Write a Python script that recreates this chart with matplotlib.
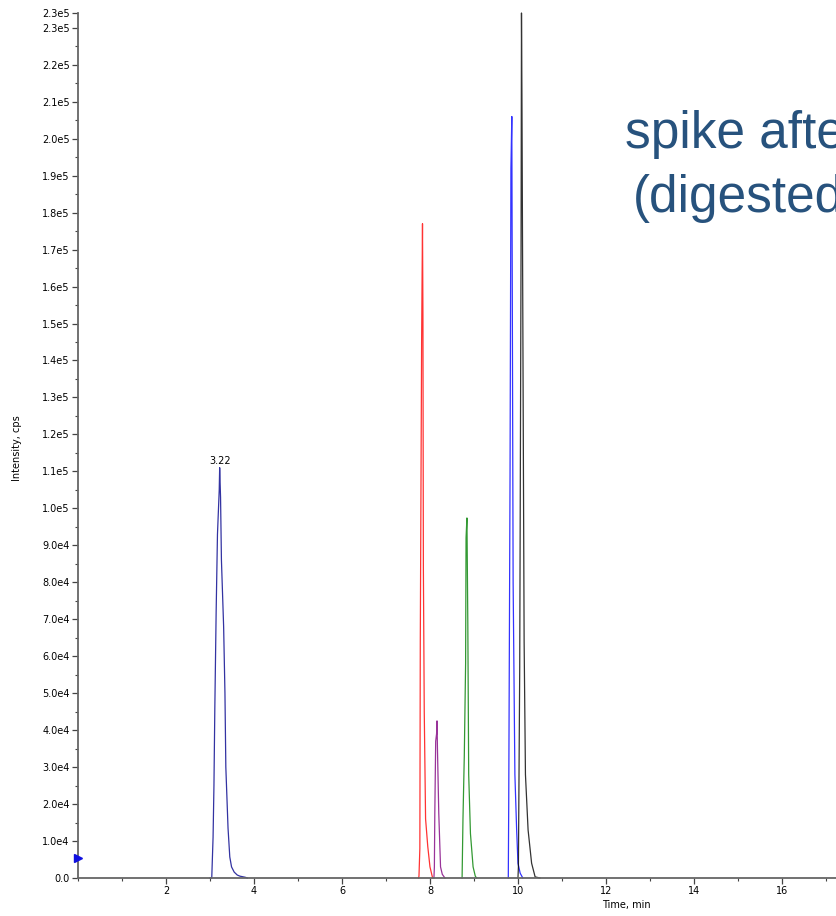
import matplotlib
matplotlib.use("Agg")
import matplotlib.pyplot as plt
from matplotlib.ticker import FuncFormatter, MultipleLocator, FixedLocator

# ---- data (time in min, intensity in cps) ----
navy_t = [3.00, 3.04, 3.07, 3.09, 3.11, 3.14, 3.17, 3.21, 3.22, 3.24, 3.26, 3.31,
          3.34, 3.36, 3.41, 3.45, 3.49, 3.55, 3.62, 3.68, 3.80, 3.85]
navy_y = [0, 0, 1.1e4, 2.5e4, 4.6e4, 7.2e4, 9.3e4, 1.05e5, 1.11e5, 1.03e5, 8.6e4, 6.8e4,
          5.0e4, 3.0e4, 1.35e4, 5.7e3, 3.0e3, 1.6e3, 8e2, 5e2, 2e2, 0]

red_t = [7.74, 7.75, 7.77, 7.78, 7.81, 7.83, 7.84, 7.85, 7.87, 7.90, 7.95, 8.00, 8.06]
red_y = [0, 5e2, 8e3, 6.4e4, 1.45e5, 1.77e5, 1.52e5, 8.4e4, 4.5e4, 1.6e4, 8.5e3, 3e3, 0]

purple_t = [8.09, 8.10, 8.11, 8.13, 8.15, 8.16, 8.17, 8.20, 8.24, 8.28, 8.34]
purple_y = [0, 3e3, 1.75e4, 3.7e4, 3.9e4, 4.25e4, 3.5e4, 1.75e4, 3e3, 1e3, 0]

green_t = [8.73, 8.75, 8.78, 8.81, 8.82, 8.84, 8.86, 8.88, 8.92, 8.98, 9.03, 9.06]
green_y = [0, 1.6e4, 3.3e4, 5.8e4, 9.2e4, 9.74e4, 6.9e4, 2.8e4, 1.2e4, 3e3, 5e2, 0]

blue_t = [9.78, 9.79, 9.82, 9.84, 9.86, 9.87, 9.89, 9.93, 9.97, 10.00, 10.05, 10.11]
blue_y = [0, 2.0e4, 1.09e5, 1.92e5, 2.06e5, 1.62e5, 8.0e4, 2.8e4, 1.3e4, 4e3, 1.3e3, 0]

black_t = [10.00, 10.01, 10.04, 10.07, 10.08, 10.09, 10.14, 10.17, 10.23, 10.31, 10.39, 10.50]
black_y = [0, 3e3, 5.7e4, 1.70e5, 2.34e5, 2.12e5, 6.4e4, 2.8e4, 1.3e4, 4e3, 3e2, 0]

series = [
    (navy_t, navy_y, "#00008B"),
    (red_t, red_y, "#FF0000"),
    (purple_t, purple_y, "#800080"),
    (green_t, green_y, "#008000"),
    (blue_t, blue_y, "#0000FF"),
    (black_t, black_y, "#000000"),
]

peak_label = "3.22"
peak_label_pos = (3.22, 1.11e5)
marker_pos = (0.0, 5.5e3)

xlim = (0, 24.32)
ylim = (0, 2.34e5)
yticks = [i * 1e4 for i in range(24)] + [2.34e5]
xticks = [2, 4, 6, 8, 10, 12, 14, 16]

title1 = "spike after"
title2 = "(digested)"

# ---- figure ----
W, H = 837, 916
fig = plt.figure(figsize=(W / 100, H / 100), dpi=100)
ax = fig.add_axes([78 / W, 1 - 878 / H, 1070 / W, 865 / H])

for t, y, c in series:
    ax.plot(t, y, color=c, lw=0.9, alpha=0.8, clip_on=False)

ax.set_xlim(*xlim)
ax.set_ylim(*ylim)

for s in ["top", "right"]:
    ax.spines[s].set_visible(False)
for s in ["left", "bottom"]:
    ax.spines[s].set_color("#666666")
    ax.spines[s].set_linewidth(1.3)

tickfont = "DejaVu Sans"


def yfmt(v, pos):
    if v == 0:
        return "0.0"
    s = f"{v:.1e}"
    m, e = s.split("e")
    return f"{m}e{int(e)}"


ax.yaxis.set_major_locator(FixedLocator(yticks))
ax.yaxis.set_major_formatter(FuncFormatter(yfmt))
ax.yaxis.set_minor_locator(MultipleLocator(5e3))
ax.xaxis.set_major_locator(FixedLocator(xticks))
ax.xaxis.set_minor_locator(MultipleLocator(1))
ax.tick_params(axis="both", which="major", length=4, width=0.9, color="#444444",
               labelsize=7, pad=2)
ax.tick_params(axis="both", which="minor", length=2, width=0.8, color="#444444")
for lab in ax.get_xticklabels() + ax.get_yticklabels():
    lab.set_fontfamily(tickfont)

ax.set_ylabel("Intensity, cps", fontsize=7, family=tickfont)
ax.yaxis.set_label_coords(-56 / 1070, (878 - 448) / 865)
ax.set_xlabel("Time, min", fontsize=7, family=tickfont)
ax.xaxis.set_label_coords((626 - 78) / 1070, -22 / 865)

ax.annotate(peak_label, xy=peak_label_pos, xytext=(0, 1), textcoords="offset points",
            ha="center", va="bottom", fontsize=7, family=tickfont)

ax.plot([marker_pos[0]], [marker_pos[1]], marker=">", color="#1010E0", markersize=6,
        clip_on=False, zorder=5)

fig.text(625 / W, 1 - 148 / H, title1, fontsize=37, color="#27527D",
         family="Liberation Sans", ha="left", va="baseline")
fig.text(633 / W, 1 - 212 / H, title2, fontsize=37, color="#27527D",
         family="Liberation Sans", ha="left", va="baseline")

fig.savefig("out.png", dpi=100)
